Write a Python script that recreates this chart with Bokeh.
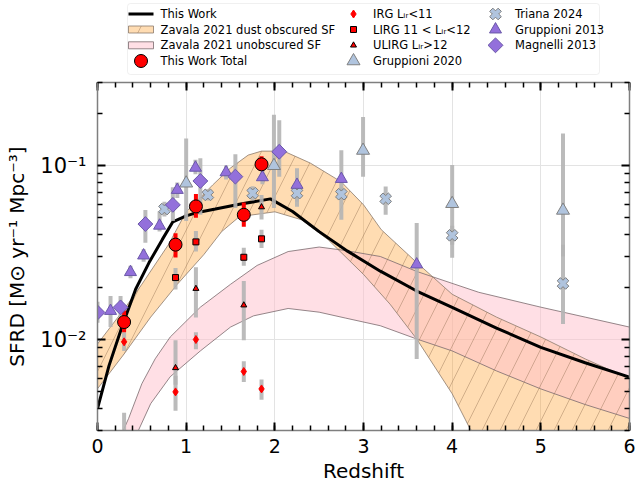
import numpy as np
from bokeh.plotting import figure
from bokeh.layouts import column
from bokeh.core.properties import value
from bokeh.models import (LinearAxis, LogAxis, FixedTicker, BoxAnnotation, Range1d,
                          SingleIntervalTicker, CustomJSTickFormatter)
from bokeh.embed import file_html
from bokeh.resources import INLINE

# ---- model curve: This Work ----
z_model = [0.0, 0.13, 0.28, 0.43, 0.58, 0.73, 0.85, 1.0, 1.1, 1.33, 1.6, 1.95,
           2.2, 2.5, 2.82, 3.19, 3.6, 4.0, 4.5, 5.0, 5.5, 6.0]
sfrd_model = [0.00401, 0.00708, 0.0120, 0.01944, 0.0276, 0.0375, 0.0475, 0.0514,
              0.0533, 0.0562, 0.0599, 0.0643, 0.0544, 0.0417, 0.0322, 0.0247,
              0.0190, 0.01528, 0.01164, 0.00902, 0.00735, 0.00608]

# ---- Zavala 2021 dust obscured SF band ----
z_dust_hi = [0.0, 0.3, 0.5, 0.8, 1.0, 1.3, 1.5, 1.7, 1.85, 2.1, 2.4, 2.75, 3.0,
             3.2, 3.6, 4.0, 4.5, 5.0, 5.5, 6.0]
dust_hi = [0.00943, 0.01494, 0.02076, 0.0351, 0.0542, 0.0774, 0.0968, 0.1148,
           0.121, 0.121, 0.1033, 0.0805, 0.0595, 0.0428, 0.0277, 0.0182,
           0.01345, 0.01034, 0.00774, 0.00595]
z_dust_lo = [0.0, 0.3, 0.6, 0.9, 1.2, 1.4, 1.6, 2.0, 2.3, 2.6, 3.0, 3.3, 3.6,
             4.0, 4.2, 4.6, 5.0, 6.0]
dust_lo = [0.00521, 0.00826, 0.01345, 0.02076, 0.0308, 0.0417, 0.0508, 0.0542,
           0.0488, 0.0375, 0.02367, 0.01595, 0.01007, 0.00488, 0.00308,
           0.00182, 0.00115, 0.000427]

# ---- Zavala 2021 unobscured SF band ----
z_unob_hi = [0.25, 0.35, 0.5, 0.65, 0.82, 1.16, 1.5, 1.8, 2.15, 2.5, 2.8, 3.19,
             3.6, 4.3, 5.0, 5.5, 6.0]
unob_hi = [0.0027, 0.00351, 0.00557, 0.00774, 0.01034, 0.01534, 0.02076,
           0.02665, 0.03203, 0.0340, 0.03246, 0.0300, 0.02462, 0.01868,
           0.01534, 0.01345, 0.01179]
z_unob_lo = [0.42, 0.6, 0.82, 1.16, 1.5, 1.76, 2.15, 2.5, 2.8, 3.19, 3.6, 4.0,
             4.5, 5.0, 5.5, 6.0]
unob_lo = [0.0027, 0.00428, 0.00611, 0.0086, 0.01179, 0.01368, 0.01508,
           0.01436, 0.01327, 0.0120, 0.01007, 0.0086, 0.0066, 0.0052,
           0.00423, 0.00352]

# ---- This Work Total ----
z_tot = [0.30, 0.88, 1.11, 1.65, 1.85]
sfrd_tot = [0.0126, 0.0351, 0.0582, 0.0521, 0.1016]
tot_lo = [0.0110, 0.0296, 0.0501, 0.0444, 0.0934]
tot_hi = [0.0147, 0.0408, 0.0687, 0.0613, 0.1130]

# ---- luminosity classes ----
z_irg = [0.30, 0.88, 1.11, 1.65, 1.85]
sfrd_irg = [0.0097, 0.0050, 0.0100, 0.00655, 0.0052]
irg_lo = [0.0086, 0.0039, 0.0088, 0.0057, 0.0045]
irg_hi = [0.0110, 0.0062, 0.0110, 0.0075, 0.0059]

z_lirg = [0.88, 1.11, 1.65, 1.85]
sfrd_lirg = [0.0227, 0.0364, 0.0297, 0.0379]
lirg_lo = [0.0194, 0.0320, 0.0265, 0.0336]
lirg_hi = [0.0258, 0.0420, 0.0337, 0.0428]

z_ulirg = [0.30, 0.88, 1.11, 1.65, 1.85]
sfrd_ulirg = [0.0026, 0.00687, 0.0196, 0.01575, 0.0577]
ulirg_lo = [0.0018, 0.0055, 0.0134, 0.0099, 0.0489]
ulirg_hi = [0.0038, 0.0099, 0.0260, 0.0217, 0.0678]

# ---- literature ----
z_g20 = [1.0, 1.99, 2.995, 4.0, 5.25]
sfrd_g20 = [0.0791, 0.0997, 0.122, 0.0603, 0.0552]
g20_lo = [0.048, 0.057, 0.0863, 0.0295, 0.030]
g20_hi = [0.143, 0.196, 0.190, 0.1006, 0.153]

z_tri = [0.755, 1.245, 1.75, 2.25, 2.75, 3.25, 4.0, 5.25]
sfrd_tri = [0.0562, 0.0678, 0.0694, 0.0694, 0.0684, 0.0644, 0.0397, 0.0210]
tri_lo = [0.051, 0.063, 0.063, 0.058, 0.0488, 0.0521, 0.035, 0.0123]
tri_hi = [0.062, 0.073, 0.076, 0.080, 0.075, 0.0757, 0.045, 0.035]

z_g13 = [0.147, 0.372, 0.52, 0.70, 0.90, 1.105, 1.45, 1.86, 2.25, 2.75, 3.6]
sfrd_g13 = [0.0146, 0.0244, 0.0304, 0.0451, 0.0724, 0.0971, 0.0914, 0.0856,
            0.0774, 0.0837, 0.0270]
g13_lo = [0.0118, 0.0225, 0.028, 0.0418, 0.065, 0.089, 0.083, 0.078, 0.062,
          0.070, 0.00774]
g13_hi = [0.0178, 0.0265, 0.033, 0.0545, 0.080, 0.108, 0.100, 0.094, 0.0963,
          0.1225, 0.0468]

z_mag = [0.0, 0.26, 0.54, 0.85, 1.16, 1.555, 2.05]
sfrd_mag = [0.0143, 0.0153, 0.0461, 0.0594, 0.0815, 0.0863, 0.120]
mag_lo = [0.0125, 0.0133, 0.036, 0.048, 0.0522, 0.057, 0.0863]
mag_hi = [0.0165, 0.0178, 0.0556, 0.075, 0.110, 0.116, 0.182]

# ---- legend labels, by column ----
sub = "\u1d62\u1d63"
legend_col1 = ["This Work", "Zavala 2021 dust obscured SF",
               "Zavala 2021 unobscured SF", "This Work Total"]
legend_col2 = ["IRG L" + sub + "<11", "LIRG 11 < L" + sub + "<12",
               "ULIRG L" + sub + ">12", "Gruppioni 2020"]
legend_col3 = ["Triana 2024", "Gruppioni 2013", "Magnelli 2013"]

FONT = "DejaVu Sans"
LEG_H = 78
BORDER_L, BORDER_R = 97, 7

# shared glyph styles (main plot and legend strip)
DUST_FILL = dict(fill_color="darkorange", fill_alpha=0.3, line_color=None)
DUST_HATCH = dict(fill_color=None, line_color="#8c7a6b", line_alpha=0.8,
                  line_width=1, hatch_pattern="/", hatch_color="#8c6a4a",
                  hatch_alpha=0.5, hatch_weight=0.8, hatch_scale=36)
DUST = dict(DUST_FILL, **{k: v for k, v in DUST_HATCH.items() if k != "fill_color"})
UNOB = dict(fill_color="pink", fill_alpha=0.5, line_color="#7a6a6e",
            line_alpha=0.8, line_width=1)
LINE = dict(line_color="black", line_width=3)
TOT = dict(marker="circle", size=13, fill_color="red", line_color="black", line_width=1)
IRG = dict(marker="diamond", size=8, fill_color="red", line_color="red", line_width=1)
LIRG = dict(marker="square", size=6, fill_color="red", line_color="black", line_width=1)
ULIRG = dict(marker="triangle", size=6, fill_color="red", line_color="black", line_width=1)
G20 = dict(marker="triangle", size=13, fill_color="lightsteelblue",
           line_color="gray", line_width=1)
TRI = dict(marker="plus", angle=np.pi / 4, size=12, fill_color="lightsteelblue",
           line_color="gray", line_width=1)
G13 = dict(marker="triangle", size=12, fill_color="mediumpurple",
           line_color="#6a58a8", line_width=1)
MAG = dict(marker="square", angle=np.pi / 4, size=10.5, fill_color="mediumpurple",
           line_color="#6a58a8", line_width=1)

p = figure(width=636, height=485 - LEG_H, x_range=(0, 6), y_range=(0.003, 0.3),
           y_axis_type="log", output_backend="svg", toolbar_location=None,
           min_border_left=BORDER_L, min_border_right=BORDER_R, min_border_top=4,
           min_border_bottom=53, background_fill_color="white",
           border_fill_color="white")
p.outline_line_color = None

# bands: dust fill, unobscured band, then dust hatching/edges on top
dust_x = z_dust_hi + z_dust_lo[::-1]
dust_y = dust_hi + dust_lo[::-1]
p.patch(x=dust_x, y=dust_y, **DUST_FILL)
p.patch(x=z_unob_hi + z_unob_lo[::-1], y=unob_hi + unob_lo[::-1], **UNOB)
p.patch(x=dust_x, y=dust_y, **DUST_HATCH)

# model curve
p.line(z_model, sfrd_model, **LINE)

# error bars
BAR = dict(line_color="#b4b4b4", line_width=4, line_alpha=0.9)
for zz, lo, hi in [(z_irg, irg_lo, irg_hi), (z_lirg, lirg_lo, lirg_hi),
                   (z_ulirg, ulirg_lo, ulirg_hi), (z_g20, g20_lo, g20_hi),
                   (z_tri, tri_lo, tri_hi), (z_g13, g13_lo, g13_hi),
                   (z_mag, mag_lo, mag_hi)]:
    p.segment(x0=zz, y0=lo, x1=zz, y1=hi, **BAR)
p.segment(x0=z_tot, y0=tot_lo, x1=z_tot, y1=tot_hi, line_color="red", line_width=4)

# markers
p.scatter(z_g20, sfrd_g20, **G20)
p.scatter(z_tri, sfrd_tri, **TRI)
p.scatter(z_g13, sfrd_g13, **G13)
p.scatter(z_mag, sfrd_mag, **MAG)
p.scatter(z_irg, sfrd_irg, **IRG)
p.scatter(z_lirg, sfrd_lirg, **LIRG)
p.scatter(z_ulirg, sfrd_ulirg, **ULIRG)
p.scatter(z_tot, sfrd_tot, **TOT)

# axes
def style_axis(ax, label_size="19px"):
    ax.axis_line_color = "#7f7f7f"
    ax.axis_line_width = 1.5
    ax.major_tick_in = 8
    ax.major_tick_out = 0
    ax.minor_tick_in = 5
    ax.minor_tick_out = 0
    ax.major_tick_line_color = "black"
    ax.major_tick_line_width = 2
    ax.minor_tick_line_color = "black"
    ax.minor_tick_line_width = 1.5
    ax.major_label_text_font = FONT
    ax.major_label_text_font_size = label_size
    ax.major_label_text_color = "black"
    ax.axis_label_text_font = FONT
    ax.axis_label_text_font_size = "20px"
    ax.axis_label_text_font_style = "normal"
    ax.axis_label_text_color = "black"

x_ticker = SingleIntervalTicker(interval=1, num_minor_ticks=5)
y_minor = [0.003, 0.004, 0.005, 0.006, 0.007, 0.008, 0.009,
           0.02, 0.03, 0.04, 0.05, 0.06, 0.07, 0.08, 0.09, 0.2, 0.3]
y_ticker = FixedTicker(ticks=[0.01, 0.1], minor_ticks=y_minor)

xa = p.xaxis[0]
xa.ticker = x_ticker
xa.axis_label = "Redshift"
xa.major_label_standoff = 8
xa.axis_label_standoff = 3
style_axis(xa)

ya = p.yaxis[0]
ya.ticker = y_ticker
ya.axis_label = "SFRD [M\u2299 yr\u207b\u00b9 Mpc\u207b\u00b3]"
ya.major_label_overrides = {0.01: "10\u207b\u00b2", 0.1: "10\u207b\u00b9"}
ya.major_label_standoff = 11
ya.axis_label_standoff = 8
style_axis(ya, "21px")

blank = CustomJSTickFormatter(code="return ''")
top = LinearAxis(ticker=x_ticker, formatter=blank, major_label_standoff=0)
style_axis(top)
p.add_layout(top, "above")
right = LogAxis(ticker=y_ticker, formatter=blank, major_label_standoff=0)
style_axis(right)
p.add_layout(right, "right")

p.xgrid.ticker = x_ticker
p.ygrid.ticker = y_ticker
p.xgrid.grid_line_color = "#e3e3e3"
p.ygrid.grid_line_color = "#e3e3e3"
p.xgrid.minor_grid_line_color = None
p.ygrid.minor_grid_line_color = None

# ---- legend strip above the axes ----
# its frame lines up with the main frame, so x is given in page pixels
lg = figure(width=636, height=LEG_H, x_range=Range1d(BORDER_L, 636 - BORDER_R),
            y_range=Range1d(LEG_H, 0), output_backend="svg",
            toolbar_location=None, min_border_left=BORDER_L,
            min_border_right=BORDER_R, min_border_top=0, min_border_bottom=0,
            x_axis_location=None, y_axis_location=None,
            background_fill_color=None, border_fill_color="white")
lg.outline_line_color = None
lg.grid.visible = False

lg.add_layout(BoxAnnotation(left=127, right=599, top=3, bottom=74,
                            fill_color="white", fill_alpha=1.0, level="underlay",
                            line_color="#cccccc", line_width=1, border_radius=3))

rows = [13.5, 29.0, 44.8, 60.5]
key_x = [140.5, 353.0, 495.0]     # centre of each column's key
text_dx = 19.5                    # gap from key centre to label start
half = 12.5                       # half width of line / patch keys

# column 1: curve, two bands, total points
lg.line([key_x[0] - half, key_x[0] + half], [rows[0], rows[0]], **LINE)
lg.quad(left=key_x[0] - half, right=key_x[0] + half,
        top=rows[1] - 3.5, bottom=rows[1] + 3.5, **DUST)
lg.quad(left=key_x[0] - half, right=key_x[0] + half,
        top=rows[2] - 3.5, bottom=rows[2] + 3.5, **UNOB)
lg.scatter([key_x[0]], [rows[3]], **TOT)
# column 2: luminosity classes and Gruppioni 2020
for r, style in zip(rows, [IRG, LIRG, ULIRG, G20]):
    lg.scatter([key_x[1]], [r], **style)
# column 3: remaining literature
for r, style in zip(rows, [TRI, G13, MAG]):
    lg.scatter([key_x[2]], [r], **style)

TEXT = dict(text_font=value(FONT), text_font_size="11.5px", text_color="black",
            text_baseline="middle", text_align="left")
for cx, labels in zip(key_x, [legend_col1, legend_col2, legend_col3]):
    lg.text(x=[cx + text_dx] * len(labels), y=rows[:len(labels)],
            text=labels, **TEXT)

layout = column(lg, p, spacing=0)
open("out.html", "w").write(file_html(layout, INLINE))
